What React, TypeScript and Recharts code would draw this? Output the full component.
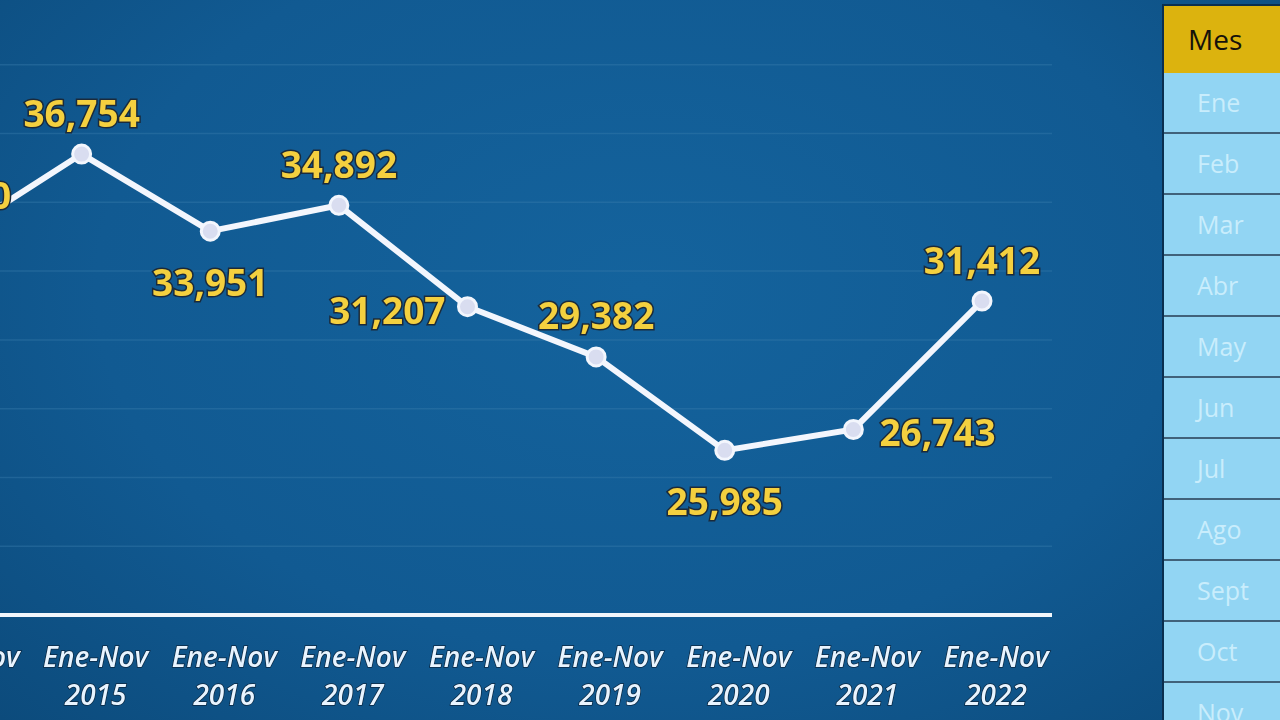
import React from "react";
import { LineChart, Line, XAxis, YAxis, CartesianGrid, LabelList } from "recharts";

const PERIOD = "Ene-Nov";
const YEARS = ["2014", "2015", "2016", "2017", "2018", "2019", "2020", "2021", "2022"];
const VALUES = [33760, 36754, 33951, 34892, 31207, 29382, 25985, 26743, 31412];
const Y_TICKS = [20000, 22500, 25000, 27500, 30000, 32500, 35000, 37500, 40000, 42500];
const MONTHS = ["Ene", "Feb", "Mar", "Abr", "May", "Jun", "Jul", "Ago", "Sept", "Oct", "Nov"];

// where each data label sits relative to its point
const LABEL_PLACEMENT = ["top", "top", "bottom", "top", "left", "top", "bottom", "right", "top"];

const data = YEARS.map((y, i) => ({ year: y, value: VALUES[i] }));

const FONT = "'Open Sans', 'Noto Sans', sans-serif";

function ValueLabel(props: any) {
  const { x, y, value, index } = props;
  const place = LABEL_PLACEMENT[index];
  let tx = x;
  let ty = y;
  let anchor: "middle" | "end" | "start" = "middle";
  if (place === "top") ty = y - 42;
  if (place === "bottom") ty = y + 50;
  if (place === "left") {
    tx = x - 22;
    anchor = "end";
    ty = y + 3;
  }
  if (place === "right") {
    tx = x + 26;
    anchor = "start";
    ty = y + 2;
  }
  return (
    <text
      x={tx}
      y={ty}
      textAnchor={anchor}
      dominantBaseline="central"
      fill="#f4d03f"
      stroke="#1b2a3a"
      strokeWidth={3}
      paintOrder="stroke"
      fontFamily={FONT}
      fontWeight={700}
      fontSize={37}
    >
      {Number(value).toLocaleString("en-US")}
    </text>
  );
}

function YearTick(props: any) {
  const { x, y, payload } = props;
  return (
    <g transform={`translate(${x + 14},${y})`}>
      <text
        textAnchor="middle"
        fill="#e8f4ff"
        fontFamily={FONT}
        fontStyle="italic"
        fontWeight={600}
        fontSize={28}
        stroke="#0b2740"
        strokeWidth={1.5}
        paintOrder="stroke"
      >
        <tspan x={0} dy={44}>{PERIOD}</tspan>
        <tspan x={0} dy={38}>{payload.value}</tspan>
      </text>
    </g>
  );
}

function Slicer() {
  return (
    <div
      style={{
        position: "absolute",
        left: 1162,
        top: 4,
        width: 130,
        height: 730,
        borderLeft: "2px solid #0a2f4f",
        borderTop: "2px solid #0a2f4f",
        fontFamily: FONT,
      }}
    >
      <div
        style={{
          height: 67,
          background: "#dcb30e",
          color: "#15120a",
          fontSize: 28,
          lineHeight: "67px",
          paddingLeft: 24,
        }}
      >
        Mes
      </div>
      {MONTHS.map((m) => (
        <div
          key={m}
          style={{
            height: 59,
            background: "#92d5f3",
            borderBottom: "2px solid #41627a",
            color: "#c9edfc",
            fontSize: 25,
            lineHeight: "59px",
            paddingLeft: 33,
          }}
        >
          {m}
        </div>
      ))}
    </div>
  );
}

export default function App() {
  return (
    <div
      style={{
        position: "fixed",
        left: 0,
        top: 0,
        width: 1280,
        height: 720,
        overflow: "hidden",
        background: "radial-gradient(ellipse at 50% 40%, #14639d 0%, #115a92 60%, #0c4b7c 100%)",
      }}
    >
      <div style={{ position: "absolute", left: -111, top: -4 }}>
        <LineChart width={1163} height={724} data={data} margin={{ top: 0, right: 0, bottom: 0, left: 0 }}>
          <CartesianGrid vertical={false} stroke="#3a7cad" strokeOpacity={0.4} strokeWidth={1.5} />
          <XAxis
            dataKey="year"
            height={105}
            padding={{ left: 64, right: 70 }}
            axisLine={{ stroke: "#f2f6fb", strokeWidth: 4 }}
            tickLine={false}
            tick={<YearTick />}
            interval={0}
          />
          <YAxis hide domain={[20000, 42500]} ticks={Y_TICKS} type="number" />
          <Line
            dataKey="value"
            stroke="#f3f6fd"
            strokeWidth={6}
            dot={{ r: 9, fill: "#d9ddf0", stroke: "#f3f6fd", strokeWidth: 3 }}
            isAnimationActive={false}
          >
            <LabelList dataKey="value" content={<ValueLabel />} />
          </Line>
        </LineChart>
      </div>
      <Slicer />
    </div>
  );
}
